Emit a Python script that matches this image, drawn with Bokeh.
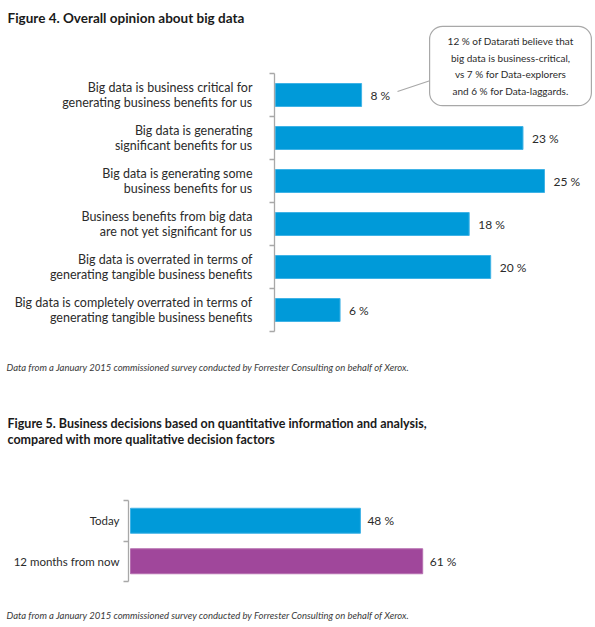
from bokeh.plotting import figure
from bokeh.models import (Range1d, FixedTicker, Label, LabelSet, ColumnDataSource,
                          Arrow, LinearAxis)
from bokeh.core.properties import value
from bokeh.layouts import column
from bokeh.embed import file_html
from bokeh.resources import INLINE

# ---------------- data ----------------
title4 = "Figure 4. Overall opinion about big data"
categories4 = [
    "Big data is business critical for\ngenerating business benefits for us",
    "Big data is generating\nsignificant benefits for us",
    "Big data is generating some\nbusiness benefits for us",
    "Business benefits from big data\nare not yet significant for us",
    "Big data is overrated in terms of\ngenerating tangible business benefits",
    "Big data is completely overrated in terms of\ngenerating tangible business benefits",
]
values4 = [8, 23, 25, 18, 20, 6]
callout4 = ("12 % of Datarati believe that\nbig data is business-critical,\n"
            "vs 7 % for Data-explorers\nand 6 % for Data-laggards.")

title5_line1 = "Figure 5. Business decisions based on quantitative information and analysis,"
title5_line2 = "compared with more qualitative decision factors"
categories5 = ["Today", "12 months from now"]
values5 = [48, 61]
colors5 = ["#009ad9", "#a0479b"]
lines5 = ["#40b3e6", "#b66fb1"]

footnote = ("Data from a January 2015 commissioned survey conducted by "
            "Forrester Consulting on behalf of Xerox.")

FONT = "Lato"
TXT = "#2b2b2b"
AXC = "#a8a8a8"


def base_fig(w, h, xr, yr, n, axis_x):
    p = figure(width=w, height=h, output_backend="svg", toolbar_location=None,
               x_range=xr, y_range=yr, x_axis_location=None, y_axis_location=None,
               min_border=0)
    p.outline_line_color = None
    p.xgrid.visible = False
    p.ygrid.visible = False
    p.background_fill_color = "white"
    p.border_fill_color = "white"
    ax_ = LinearAxis(fixed_location=axis_x, bounds=(0, n),
                     ticker=FixedTicker(ticks=list(range(n + 1))),
                     axis_line_color=AXC, axis_line_width=1.3,
                     major_tick_line_color=AXC, major_tick_line_width=1.3,
                     major_tick_out=5, major_tick_in=0,
                     minor_tick_line_color=None,
                     major_label_text_font_size="0px", major_label_standoff=0,
                     major_label_overrides={i: "" for i in range(n + 1)})
    p.add_layout(ax_, "left")
    return p


# ---------------- figure 4 ----------------
A_W, A_H = 595, 395
A_ZERO = 275          # pixel of 0 %
A_PX = 10.76          # pixels per percent
A_TOP = 73            # pixel of first category boundary
A_ROW = 43            # pixels per category
n4 = len(categories4)


def ax4(fx):
    return (fx - A_ZERO) / A_PX


def ay4(fy):
    return (fy - A_TOP) / A_ROW


pA = base_fig(A_W, A_H, Range1d(ax4(0), ax4(A_W)), Range1d(ay4(A_H), ay4(0)),
              n4, ax4(A_ZERO - 1.5))

srcA = ColumnDataSource(dict(
    y=[i + 0.5 for i in range(n4)],
    v=values4,
    zero=[0] * n4,
    cat1=[c.split("\n")[0] for c in categories4],
    cat2=[c.split("\n")[1] for c in categories4],
    lab=[f"{v} %" for v in values4],
))
pA.hbar(y="y", left=0, right="v", height=23 / A_ROW, source=srcA,
        fill_color="#009ad9", line_color="#40b3e6", line_width=1)

pA.add_layout(LabelSet(x="v", y="y", text="lab", source=srcA, x_offset=9,
                       text_align="left", text_baseline="middle",
                       text_font=value(FONT), text_font_size="12px", text_color=TXT))
for col, off in (("cat1", 8), ("cat2", -7)):
    pA.add_layout(LabelSet(x="zero", y="y", text=col, source=srcA, x_offset=-23,
                           y_offset=off, text_align="right", text_baseline="middle",
                           text_font=value(FONT), text_font_size="12.5px",
                           text_color=TXT))

pA.add_layout(Label(x=ax4(7), y=ay4(17), text=title4, text_align="left",
                    text_baseline="middle", text_font=FONT, text_font_style="bold",
                    text_font_size="13.5px", text_color="#1a1a1a"))
pA.add_layout(Label(x=ax4(6), y=ay4(367), text=footnote, text_align="left",
                    text_baseline="middle", text_font=FONT, text_font_style="italic",
                    text_font_size="9.5px", text_color="#3a3a3a"))

pA.add_layout(Arrow(end=None, x_start=ax4(397), y_start=ay4(91),
                    x_end=ax4(430), y_end=ay4(80),
                    line_color="#a8a8a8", line_width=1.2))
pA.add_layout(Label(x=ax4(510), y=ay4(65.5), text=callout4, text_align="center",
                    text_baseline="middle", text_line_height=1.37,
                    text_font=FONT, text_font_size="10px", text_color=TXT,
                    background_fill_color="white", border_line_color="#a8a8a8",
                    border_line_width=1.2, border_radius=13,
                    padding=dict(left=18, right=18, top=9, bottom=9)))

# ---------------- figure 5 ----------------
B_W, B_H = 595, 232
B_OFF = 395           # page pixel where this figure starts
B_ZERO = 130
B_PX = 4.79
B_TOP = 500 - B_OFF
B_ROW = 40.5
n5 = len(categories5)


def ax5(fx):
    return (fx - B_ZERO) / B_PX


def ay5(fy):
    return (fy - B_OFF - B_TOP) / B_ROW


pB = base_fig(B_W, B_H, Range1d(ax5(0), ax5(B_W)),
              Range1d(ay5(B_OFF + B_H), ay5(B_OFF)), n5, ax5(B_ZERO - 2))

srcB = ColumnDataSource(dict(
    y=[i + 0.5 for i in range(n5)],
    v=values5,
    zero=[0] * n5,
    cat=categories5,
    lab=[f"{v} %" for v in values5],
    c=colors5,
    lc=lines5,
))
pB.hbar(y="y", left=0, right="v", height=25 / B_ROW, source=srcB,
        fill_color="c", line_color="lc", line_width=1)
pB.add_layout(LabelSet(x="v", y="y", text="lab", source=srcB, x_offset=7,
                       text_align="left", text_baseline="middle",
                       text_font=value(FONT), text_font_size="12px", text_color=TXT))
pB.add_layout(LabelSet(x="zero", y="y", text="cat", source=srcB, x_offset=-11,
                       text_align="right", text_baseline="middle",
                       text_font=value(FONT), text_font_size="11.5px", text_color=TXT))
for txt, yy in ((title5_line1, 423), (title5_line2, 439)):
    pB.add_layout(Label(x=ax5(7), y=ay5(yy), text=txt, text_align="left",
                        text_baseline="middle", text_font=FONT, text_font_style="bold",
                        text_font_size="12.5px", text_color="#1a1a1a"))
pB.add_layout(Label(x=ax5(6), y=ay5(615), text=footnote, text_align="left",
                    text_baseline="middle", text_font=FONT, text_font_style="italic",
                    text_font_size="9.5px", text_color="#3a3a3a"))

layout = column(pA, pB, spacing=0)
open("out.html", "w").write(file_html(layout, INLINE))
